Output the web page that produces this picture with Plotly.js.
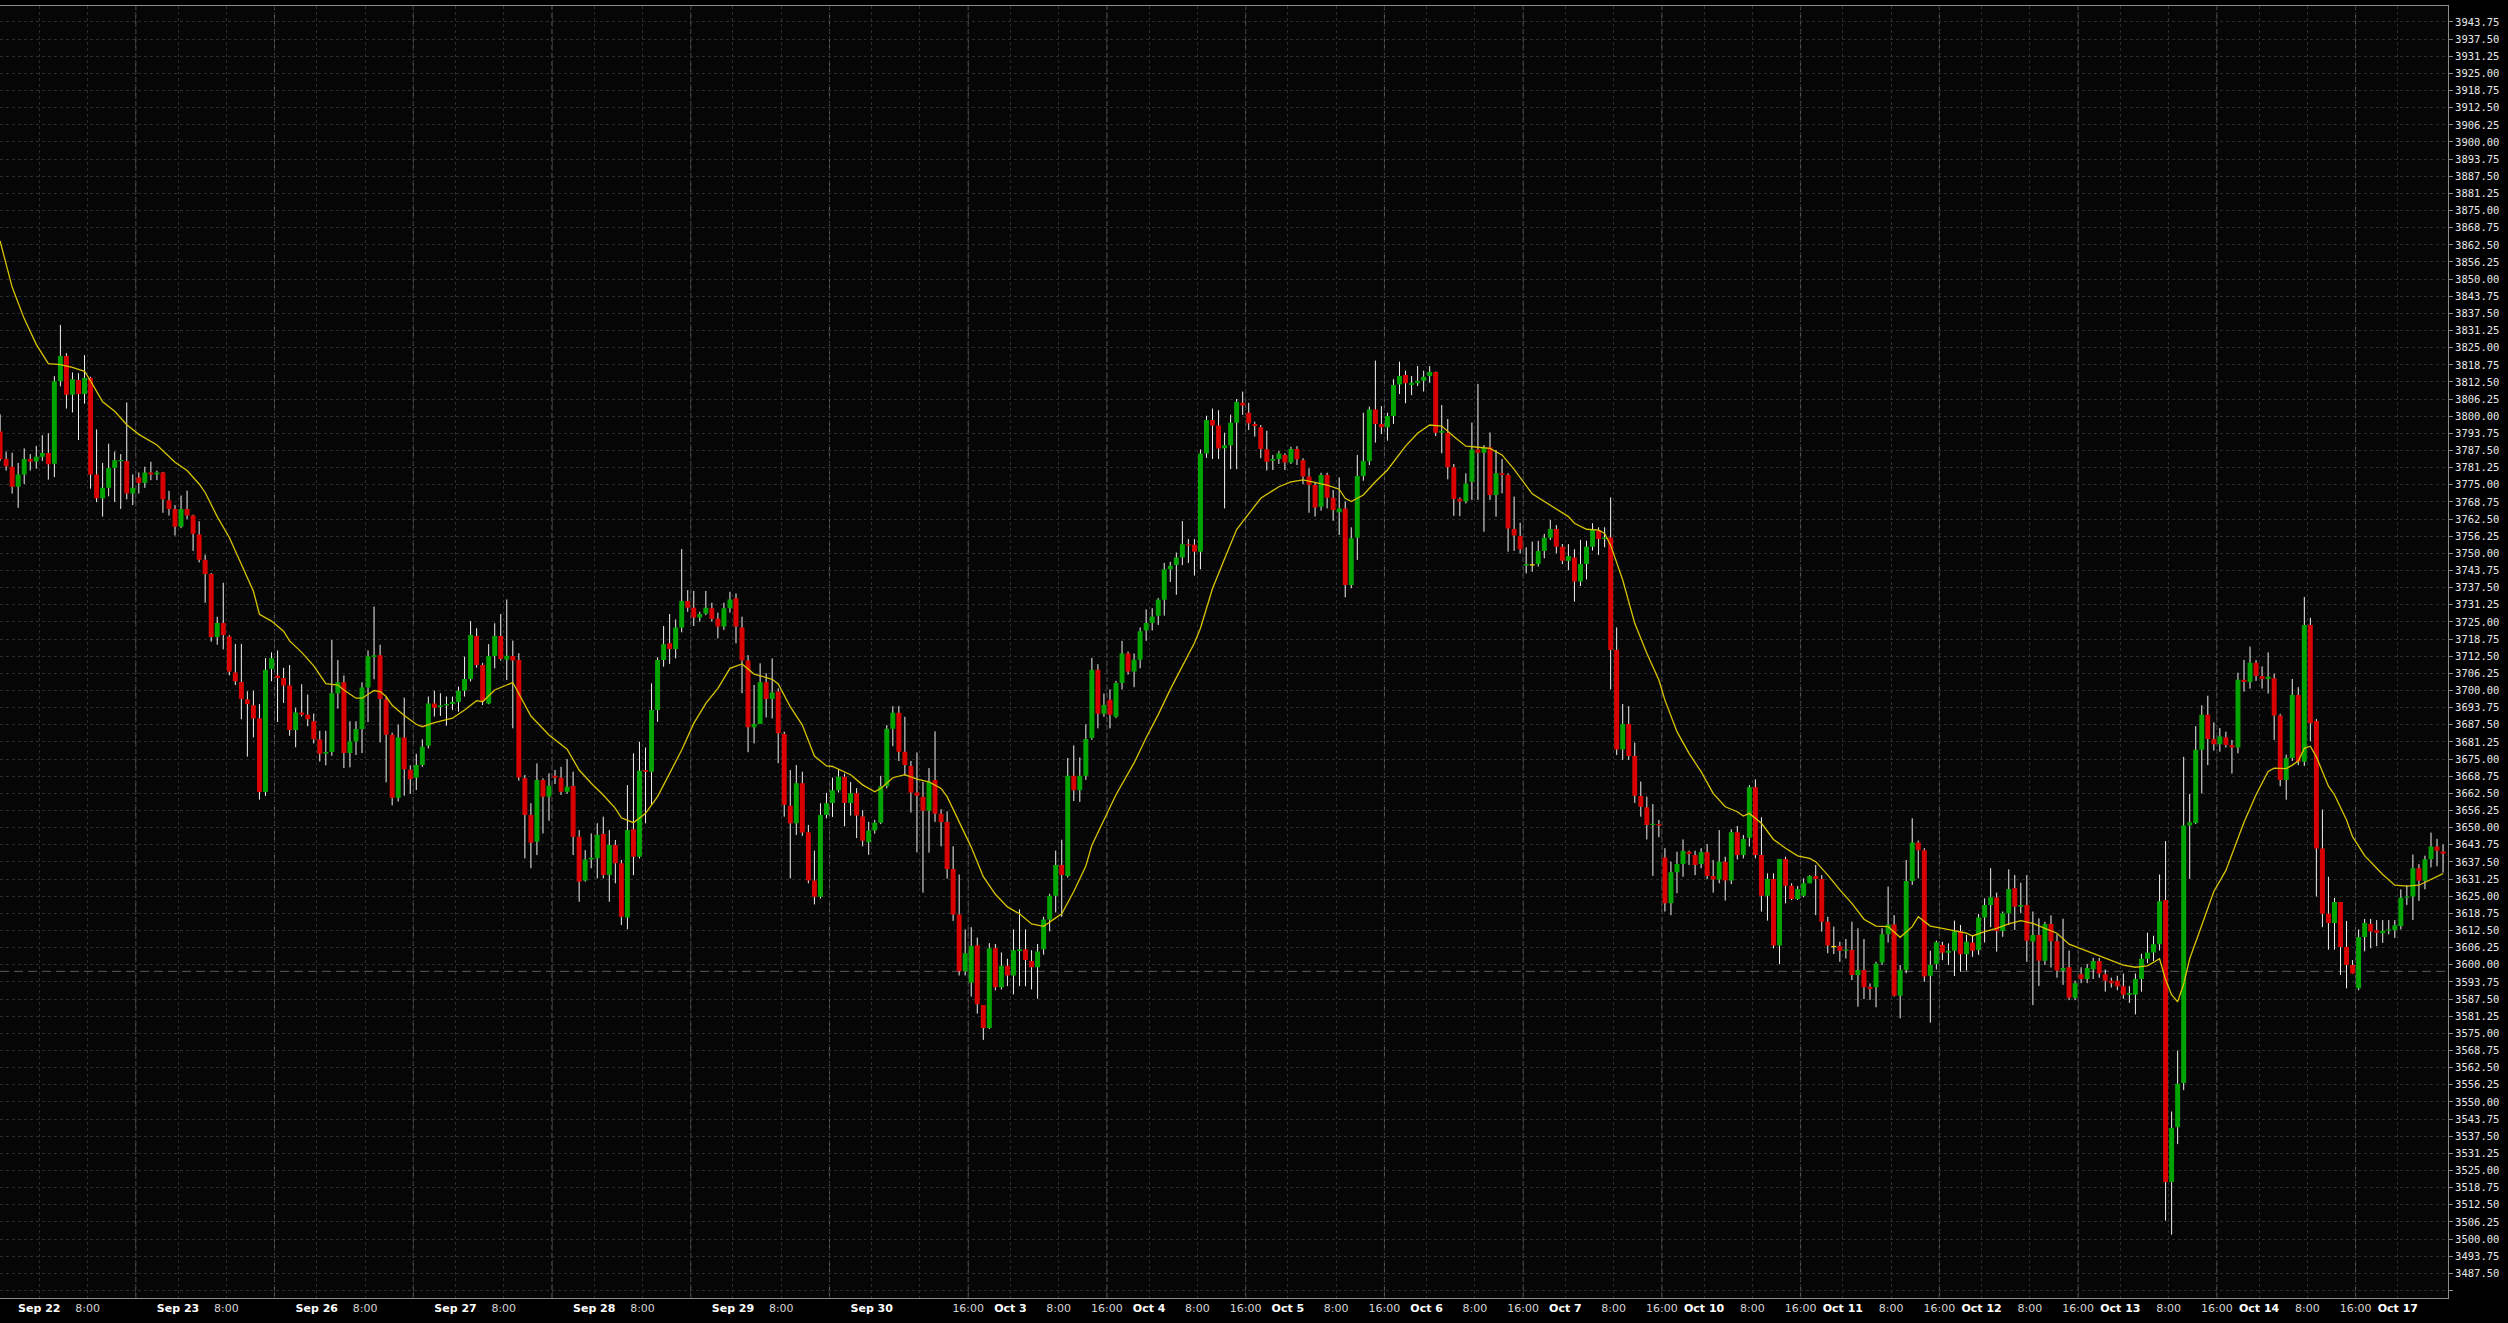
<!DOCTYPE html>
<html>
<head>
<meta charset="utf-8">
<script src="https://cdn.plot.ly/plotly-3.0.1.min.js"></script>
<style>
html,body{margin:0;padding:0;background:#000;}
#chart{width:2508px;height:1323px;}
</style>
</head>
<body>
<div id="chart"></div>
<script>
// ---- Hourly candles (index 0..405) ----
const openP = [
3794.4,3784.4,3781.6,3774.3,3778.8,3784.4,3783.5,3785.2,3786.6,3782.7,
3812.8,3822.0,3807.8,3813.2,3808.1,3813.9,3778.8,3770.1,3773.9,3781.1,
3783.6,3783.7,3771.8,3777.7,3775.7,3779.5,3778.8,3779.5,3769.4,3766.2,
3759.7,3766.2,3763.8,3756.9,3747.7,3742.5,3719.5,3724.6,3719.7,3706.6,
3703.1,3696.7,3694.6,3689.8,3663.0,3707.8,3705.5,3704.6,3701.8,3685.6,
3692.0,3691.2,3688.8,3682.1,3676.9,3677.6,3699.0,3703.0,3677.2,3681.4,
3686.0,3701.1,3712.2,3712.9,3696.7,3683.9,3660.9,3682.9,3671.1,3668.2,
3672.8,3679.9,3695.3,3694.0,3694.5,3695.1,3695.8,3699.9,3704.2,3719.9,
3709.3,3695.3,3712.6,3719.9,3711.3,3712.6,3711.1,3668.0,3654.6,3644.9,
3667.4,3661.3,3668.9,3668.2,3663.1,3665.2,3646.7,3630.7,3638.4,3638.8,
3647.7,3632.7,3643.7,3637.0,3617.2,3649.4,3639.4,3671.0,3670.4,3692.9,
3711.1,3717.2,3715.1,3723.0,3732.6,3730.2,3726.6,3728.1,3730.0,3726.3,
3723.3,3730.0,3733.6,3723.0,3710.9,3686.6,3687.8,3703.0,3696.9,3699.6,
3684.1,3658.0,3651.6,3666.2,3648.3,3630.7,3624.8,3654.6,3659.0,3663.6,
3668.6,3659.0,3662.5,3654.1,3644.7,3649.0,3651.8,3665.1,3686.1,3691.9,
3677.7,3672.5,3662.8,3661.3,3656.2,3667.4,3655.1,3652.1,3634.9,3618.3,
3597.6,3593.4,3607.1,3585.3,3576.9,3606.0,3591.8,3599.6,3596.1,3605.0,
3605.7,3601.4,3599.1,3605.7,3616.5,3625.2,3636.4,3632.4,3668.9,3663.6,
3668.9,3682.7,3707.6,3691.5,3696.6,3690.4,3702.7,3713.5,3706.9,3711.2,
3721.9,3724.6,3727.3,3733.1,3744.2,3745.8,3748.5,3753.3,3753.1,3750.6,
3786.4,3798.6,3796.6,3788.3,3789.4,3797.6,3804.9,3801.3,3797.2,3796.0,
3788.0,3783.8,3784.4,3785.9,3783.1,3788.1,3784.0,3778.0,3774.9,3767.0,
3778.6,3770.3,3765.0,3766.4,3738.5,3755.7,3778.2,3783.7,3802.5,3797.2,
3796.0,3800.1,3811.6,3815.0,3811.4,3812.0,3812.9,3814.7,3816.1,3794.0,
3794.0,3781.4,3769.8,3768.9,3776.1,3787.9,3786.7,3788.7,3771.3,3779.2,
3778.6,3758.9,3756.3,3745.6,3745.8,3746.1,3750.9,3755.7,3758.9,3752.4,
3747.3,3748.5,3739.7,3746.1,3752.4,3758.3,3755.2,3755.8,3714.8,3678.5,
3687.8,3676.1,3661.5,3657.4,3651.0,3651.3,3639.1,3622.4,3633.7,3636.7,
3641.2,3640.0,3636.7,3641.0,3632.4,3631.1,3637.6,3630.7,3648.3,3640.0,
3646.3,3664.7,3640.0,3625.2,3631.3,3607.0,3638.6,3628.8,3624.0,3625.2,
3629.7,3632.4,3631.3,3615.7,3606.6,3606.8,3605.1,3605.4,3596.3,3598.1,
3592.0,3591.8,3600.8,3611.1,3614.7,3588.7,3598.1,3630.5,3644.6,3641.8,
3596.0,3600.3,3607.2,3604.4,3605.1,3612.1,3603.8,3608.1,3605.4,3617.2,
3621.8,3624.5,3612.3,3618.8,3627.9,3621.2,3621.8,3608.5,3610.9,3601.5,
3614.9,3608.6,3597.9,3599.1,3588.0,3596.5,3594.8,3598.4,3601.4,3596.5,
3594.2,3594.2,3592.2,3589.1,3589.1,3594.8,3602.2,3604.5,3607.5,3623.6,
3520.8,3540.8,3556.9,3650.8,3651.7,3678.4,3691.2,3682.3,3680.4,3683.0,
3680.1,3679.2,3703.9,3703.1,3710.1,3705.3,3704.2,3704.5,3690.9,3667.4,
3675.4,3698.4,3674.0,3723.9,3688.9,3642.4,3618.6,3615.2,3622.9,3606.5,
3599.9,3591.4,3610.1,3614.9,3612.6,3611.5,3612.4,3612.6,3614.1,3624.4,
3624.9,3635.2,3630.6,3638.5,3643.1,3641.3];

const highP = [
3800.7,3787.1,3786.7,3783.0,3788.3,3786.2,3789.2,3793.1,3793.8,3814.6,
3833.3,3823.0,3816.0,3815.7,3822.3,3814.4,3795.2,3783.0,3790.0,3787.1,
3786.2,3805.0,3778.8,3779.5,3781.6,3783.4,3780.2,3779.7,3772.8,3767.6,
3771.1,3772.9,3764.1,3761.7,3749.5,3742.8,3726.9,3739.3,3720.2,3717.0,
3717.0,3699.7,3699.9,3695.1,3711.8,3713.9,3714.6,3708.3,3709.3,3693.7,
3702.3,3698.5,3691.6,3685.3,3685.3,3718.4,3711.1,3705.5,3688.8,3688.8,
3703.0,3714.6,3730.6,3716.7,3697.9,3684.6,3687.6,3697.4,3672.7,3676.9,
3682.2,3697.8,3699.9,3699.0,3697.8,3697.8,3701.4,3712.3,3725.3,3722.7,
3710.1,3716.9,3724.5,3727.9,3733.2,3718.2,3713.6,3669.2,3658.9,3673.4,
3668.0,3669.8,3671.0,3672.2,3675.0,3670.4,3649.1,3641.8,3647.9,3651.6,
3654.0,3649.1,3645.5,3638.2,3665.5,3677.1,3681.3,3679.2,3702.6,3712.1,
3723.5,3727.9,3725.9,3751.6,3736.6,3736.3,3728.7,3736.3,3732.0,3728.4,
3732.0,3736.0,3735.4,3726.9,3712.9,3702.0,3709.9,3706.3,3711.7,3700.8,
3685.0,3671.0,3672.8,3670.4,3651.0,3641.6,3658.9,3662.7,3668.2,3671.3,
3669.7,3666.6,3664.4,3656.4,3652.1,3652.8,3668.9,3687.4,3694.3,3694.3,
3690.4,3674.3,3677.4,3666.7,3671.7,3685.1,3656.7,3655.9,3643.2,3632.9,
3612.9,3613.7,3609.9,3585.3,3607.9,3607.6,3604.5,3602.2,3612.9,3620.2,
3612.9,3605.3,3607.6,3617.5,3625.9,3641.6,3645.6,3675.4,3680.0,3675.6,
3687.7,3711.9,3709.6,3698.9,3700.4,3703.5,3718.1,3714.2,3713.5,3723.0,
3729.6,3730.0,3733.7,3746.5,3746.9,3750.3,3761.8,3755.2,3755.2,3787.9,
3800.2,3802.8,3802.2,3794.0,3800.6,3806.3,3809.0,3804.9,3798.0,3796.8,
3794.7,3785.9,3787.3,3786.5,3788.9,3789.1,3784.7,3781.0,3776.1,3779.4,
3779.4,3773.1,3777.7,3768.9,3759.5,3785.9,3801.3,3803.5,3820.3,3803.7,
3801.3,3813.5,3819.9,3816.6,3814.7,3818.3,3816.6,3818.3,3816.3,3804.1,
3799.0,3782.6,3770.4,3779.2,3797.7,3811.8,3789.5,3794.1,3787.7,3784.4,
3779.2,3770.7,3761.2,3752.2,3754.3,3754.6,3757.1,3762.2,3760.3,3753.4,
3753.4,3751.5,3754.9,3754.6,3761.0,3759.5,3759.5,3770.4,3723.0,3695.1,
3694.3,3681.0,3666.8,3661.3,3658.6,3652.8,3642.5,3637.6,3641.2,3645.7,
3641.6,3641.6,3642.5,3644.0,3638.2,3649.1,3639.4,3649.4,3650.6,3647.3,
3665.5,3667.6,3653.8,3633.3,3633.3,3638.6,3639.4,3629.7,3628.7,3631.5,
3632.7,3636.4,3632.7,3617.5,3613.9,3608.4,3609.4,3615.7,3613.3,3609.4,
3593.2,3601.1,3613.3,3628.5,3618.1,3599.9,3638.2,3653.4,3645.3,3642.5,
3605.1,3608.8,3608.4,3607.8,3616.1,3614.5,3610.9,3610.5,3618.5,3624.2,
3635.2,3626.3,3619.4,3634.8,3632.7,3629.9,3632.7,3619.4,3616.9,3615.7,
3618.0,3611.1,3616.8,3605.2,3594.2,3599.1,3600.3,3602.5,3602.5,3598.3,
3595.3,3596.0,3596.8,3592.2,3596.8,3604.0,3611.7,3610.6,3632.9,3645.1,
3546.5,3568.7,3675.8,3662.3,3687.0,3694.6,3698.1,3688.4,3686.3,3685.0,
3682.0,3706.5,3711.1,3716.0,3711.1,3708.8,3713.9,3706.2,3691.5,3676.6,
3704.2,3701.2,3734.1,3726.5,3689.6,3656.6,3632.1,3624.4,3622.9,3616.0,
3601.7,3612.9,3616.7,3616.7,3616.3,3616.3,3616.3,3616.3,3627.5,3629.0,
3640.2,3636.7,3639.8,3648.2,3645.9,3643.9];

const lowP = [
3783.7,3780.2,3771.8,3766.6,3775.3,3780.2,3780.9,3783.7,3776.9,3777.8,
3810.9,3802.8,3801.4,3791.3,3804.6,3773.6,3768.7,3763.4,3770.8,3768.7,
3766.2,3769.7,3767.6,3771.8,3773.9,3776.7,3776.7,3764.8,3763.8,3756.5,
3759.2,3762.5,3750.9,3746.7,3732.0,3717.8,3716.7,3715.0,3705.5,3702.0,
3689.5,3675.9,3682.9,3660.2,3661.6,3703.4,3688.5,3695.5,3683.5,3679.3,
3690.5,3687.0,3680.7,3674.1,3672.7,3676.2,3693.4,3671.7,3672.0,3676.5,
3677.2,3688.5,3704.1,3681.1,3666.5,3658.1,3659.5,3661.6,3662.3,3663.7,
3672.2,3678.9,3690.5,3690.7,3687.2,3692.9,3692.3,3697.8,3703.3,3708.3,
3694.7,3695.0,3708.1,3710.9,3703.8,3686.2,3667.1,3638.8,3635.2,3640.0,
3647.9,3652.5,3665.9,3661.9,3662.3,3640.0,3623.0,3630.3,3635.2,3631.5,
3631.5,3623.0,3629.7,3614.5,3612.9,3632.7,3638.8,3651.6,3658.3,3688.6,
3708.7,3709.7,3711.7,3721.2,3728.7,3723.5,3725.1,3727.5,3725.1,3719.0,
3722.1,3728.4,3717.2,3699.0,3677.5,3680.7,3687.8,3690.2,3689.8,3673.5,
3654.0,3631.5,3647.3,3647.0,3629.7,3622.0,3624.2,3653.4,3653.9,3662.8,
3650.5,3654.4,3646.2,3643.2,3640.1,3647.8,3651.3,3664.3,3679.7,3674.3,
3668.9,3655.5,3641.0,3626.3,3640.9,3652.1,3643.2,3631.4,3616.0,3596.1,
3596.1,3588.4,3582.2,3572.6,3576.6,3590.7,3591.0,3592.2,3589.2,3592.2,
3592.2,3591.0,3587.6,3603.7,3612.2,3619.1,3617.5,3631.8,3659.7,3659.4,
3667.4,3682.0,3686.2,3690.4,3686.2,3690.0,3700.4,3705.8,3701.2,3708.1,
3718.1,3721.9,3723.9,3727.3,3739.6,3734.9,3745.7,3746.5,3741.9,3744.2,
3784.8,3784.4,3784.4,3766.4,3780.7,3780.7,3800.5,3795.0,3792.6,3784.7,
3780.2,3780.4,3782.6,3780.4,3782.6,3782.2,3775.3,3764.8,3763.4,3765.6,
3766.4,3761.9,3756.7,3734.0,3737.3,3747.6,3776.5,3782.2,3790.4,3793.5,
3791.1,3797.2,3808.1,3804.7,3807.7,3811.0,3809.0,3812.2,3792.8,3786.5,
3777.0,3763.7,3763.6,3768.2,3769.5,3769.5,3757.9,3769.5,3763.4,3771.9,
3750.6,3750.9,3750.0,3742.7,3743.3,3745.2,3748.2,3754.9,3750.0,3746.1,
3743.9,3732.4,3738.1,3740.5,3751.0,3749.4,3752.2,3700.4,3676.5,3674.7,
3674.7,3659.0,3654.0,3645.7,3632.4,3646.5,3619.4,3618.1,3626.1,3632.1,
3636.4,3632.7,3635.2,3631.2,3626.3,3629.7,3623.4,3629.4,3638.4,3638.8,
3643.1,3638.8,3619.4,3616.1,3606.0,3600.2,3622.4,3623.6,3623.6,3624.6,
3629.7,3618.1,3612.1,3604.2,3603.9,3601.1,3602.3,3594.4,3584.7,3587.5,
3587.2,3584.5,3599.9,3608.1,3588.4,3580.5,3596.9,3629.1,3631.5,3593.8,
3578.9,3598.3,3601.7,3599.9,3595.9,3597.5,3597.9,3602.9,3603.6,3608.1,
3613.7,3604.8,3610.2,3614.5,3612.7,3618.8,3601.1,3585.3,3592.3,3599.9,
3599.0,3595.3,3592.7,3587.1,3587.1,3593.3,3593.3,3594.8,3595.3,3590.2,
3591.7,3590.7,3587.6,3586.1,3581.9,3590.2,3600.6,3601.4,3605.2,3506.7,
3501.6,3534.6,3554.3,3631.3,3651.3,3662.5,3672.8,3678.1,3677.7,3679.2,
3669.7,3677.1,3699.6,3700.7,3703.5,3700.7,3698.9,3682.0,3665.1,3660.2,
3674.3,3672.8,3672.5,3681.5,3624.9,3613.7,3605.5,3605.5,3596.3,3591.4,
3596.8,3590.7,3604.9,3606.0,3606.8,3608.0,3611.1,3609.8,3612.9,3621.8,
3616.3,3623.3,3627.5,3635.5,3635.9,3633.6];

const closeP = [
3784.4,3781.8,3774.3,3778.8,3784.4,3783.5,3785.2,3786.6,3782.5,3812.8,
3822.0,3807.8,3813.5,3808.1,3813.9,3778.8,3770.1,3773.9,3781.1,3784.0,
3784.0,3771.8,3773.9,3775.7,3779.5,3778.8,3779.5,3769.7,3766.2,3759.7,
3766.2,3763.8,3757.2,3747.7,3742.5,3719.5,3724.6,3720.2,3706.9,3703.4,
3696.9,3695.1,3689.8,3663.0,3707.6,3711.8,3704.6,3701.8,3685.6,3692.0,
3691.2,3689.5,3682.2,3676.9,3677.6,3699.0,3703.0,3677.2,3681.4,3686.0,
3701.1,3712.5,3712.9,3696.9,3683.9,3660.9,3682.9,3671.3,3667.6,3672.8,
3679.5,3695.3,3693.7,3694.5,3695.1,3695.8,3699.9,3704.2,3720.2,3709.3,
3696.3,3712.6,3719.9,3711.5,3712.7,3710.9,3668.3,3654.6,3644.5,3667.4,
3661.3,3665.3,3668.2,3663.1,3664.9,3646.7,3630.3,3638.4,3639.0,3647.3,
3632.7,3643.7,3637.0,3617.5,3649.1,3639.4,3670.7,3670.4,3692.9,3711.1,
3716.9,3715.1,3723.0,3732.6,3730.2,3726.6,3727.9,3730.2,3726.1,3723.3,
3730.0,3733.2,3723.3,3710.9,3686.6,3687.8,3703.0,3696.9,3699.3,3684.4,
3658.3,3651.6,3666.2,3648.2,3630.7,3624.8,3654.6,3658.9,3663.6,3668.6,
3659.0,3662.5,3654.4,3645.2,3649.0,3651.8,3665.1,3686.1,3691.9,3677.7,
3672.8,3662.8,3661.6,3656.2,3666.7,3655.1,3652.1,3634.9,3618.3,3597.6,
3604.2,3606.8,3585.6,3576.9,3606.0,3591.8,3599.6,3596.1,3605.3,3605.7,
3601.7,3599.1,3604.8,3616.5,3625.2,3636.4,3632.7,3668.9,3663.6,3668.9,
3682.3,3707.6,3691.5,3694.7,3691.2,3702.7,3713.5,3706.9,3711.2,3721.6,
3724.6,3727.0,3733.1,3744.2,3745.5,3748.5,3753.3,3752.9,3750.6,3786.4,
3798.6,3796.6,3788.2,3789.4,3797.6,3805.2,3803.9,3797.4,3796.4,3788.1,
3783.4,3784.4,3786.4,3783.1,3788.1,3784.3,3778.0,3774.9,3766.7,3778.6,
3770.3,3765.8,3766.4,3738.5,3755.5,3778.2,3783.7,3802.5,3797.2,3796.0,
3800.1,3811.4,3814.7,3812.0,3812.2,3812.9,3814.4,3816.1,3794.0,3794.7,
3781.4,3769.8,3768.9,3775.5,3787.9,3786.7,3788.5,3771.3,3779.2,3778.6,
3759.1,3756.5,3751.5,3746.1,3745.8,3750.9,3755.7,3758.9,3752.4,3747.3,
3749.0,3739.7,3746.1,3752.4,3758.5,3755.2,3755.8,3714.8,3678.5,3687.8,
3676.1,3661.6,3657.6,3651.0,3651.3,3650.8,3622.4,3633.7,3636.7,3641.5,
3640.4,3636.4,3641.0,3632.4,3631.1,3637.6,3630.7,3648.3,3640.0,3645.9,
3664.7,3640.0,3625.2,3631.3,3607.0,3638.6,3628.8,3624.0,3627.6,3629.7,
3632.4,3631.3,3615.7,3607.0,3606.6,3605.1,3605.6,3596.3,3598.1,3591.8,
3591.2,3600.5,3611.1,3614.7,3588.7,3598.1,3630.5,3644.6,3641.8,3595.7,
3599.9,3608.2,3604.4,3605.1,3612.1,3603.8,3608.4,3605.1,3617.2,3621.8,
3624.6,3612.3,3618.8,3627.6,3621.2,3621.8,3608.8,3610.9,3601.5,3614.9,
3608.6,3597.9,3598.8,3588.0,3593.3,3594.8,3598.8,3601.4,3596.8,3594.2,
3593.3,3592.2,3589.1,3589.7,3594.8,3602.2,3604.5,3607.5,3623.2,3520.8,
3540.5,3556.6,3650.8,3652.0,3678.4,3691.2,3682.3,3680.4,3683.2,3680.1,
3679.2,3703.9,3703.1,3710.1,3705.3,3704.2,3705.0,3690.9,3667.4,3675.4,
3698.4,3674.0,3723.9,3688.1,3642.4,3618.6,3615.2,3622.9,3606.5,3599.9,
3596.8,3610.1,3615.2,3612.1,3611.7,3612.4,3612.9,3614.4,3624.4,3624.9,
3635.2,3630.6,3638.5,3643.1,3641.6,3640.5];

// ---- Moving average (yellow line), read at candle indices ----
const maIdx = [0,2,4,6,8,10,12,14,15,17,19,21,23,25,26,29,31,33,34,36,38,40,42,43,45,47,48,50,52,54,56,57,59,60,62,63,64,65,67,69,
70,72,75,77,79,80,82,84,85,88,91,94,96,98,100,102,103,105,107,109,111,113,115,117,119,121,123,125,128,129,131,133,135,137,
138,141,143,145,146,148,150,152,154,156,157,159,161,163,165,167,169,171,173,175,176,178,180,181,183,185,188,190,192,194,196,198,199,201,203,205,
206,209,212,214,216,218,220,222,223,224,226,228,230,233,235,237,239,241,243,245,247,249,251,254,257,260,261,263,265,266,267,269,271,273,
275,276,278,280,282,284,286,288,289,290,292,294,296,298,300,301,303,305,307,309,311,313,315,317,318,320,322,324,326,327,329,331,333,335,337,339,341,
343,346,349,352,354,356,358,359,360,361,362,363,365,367,369,370,372,374,376,377,379,380,381,382,383,384,386,387,389,390,392,394,395,397,399,401,403,405];
const maVal = [3863.9,3847.1,3835.6,3826.2,3819.2,3818.8,3817.8,3816.4,3812.9,3805.3,3801.8,3796.9,3793.4,3790.9,3789.5,3783.2,3780.2,3775.3,3772.2,3763.4,3755.8,3746.0,3736.2,3727.8,3725.3,3721.6,3718.1,3713.9,3709.0,3702.5,3702.0,3700.2,3697.2,3697.2,3700.0,3699.6,3697.8,3694.6,3690.9,3687.7,
3686.8,3688.3,3689.9,3692.9,3696.3,3695.9,3700.2,3702.0,3702.9,3690.7,3683.8,3678.6,3671.0,3666.2,3661.9,3657.0,3653.6,3651.8,3655.2,3661.3,3669.8,3678.3,3688.0,3695.3,3700.8,3708.1,3709.7,3706.0,3704.1,3702.4,3694.1,3687.4,3676.1,3672.5,
3672.3,3669.3,3665.6,3663.1,3664.3,3668.2,3669.3,3667.7,3666.7,3664.3,3661.3,3652.1,3642.9,3632.1,3625.7,3621.1,3618.6,3614.9,3614.0,3617.1,3618.6,3626.7,3636.0,3643.6,3652.8,3662.0,3673.6,3682.8,3691.2,3700.4,3708.9,3717.3,3722.7,3737.2,3748.0,3758.7,
3761.6,3770.1,3774.3,3776.1,3776.8,3775.8,3774.9,3773.4,3770.1,3768.9,3771.3,3776.1,3780.4,3789.1,3793.8,3796.8,3796.4,3792.6,3789.1,3788.7,3788.3,3785.9,3780.6,3771.7,3767.6,3763.4,3761.0,3758.8,3758.5,3757.3,3753.0,3740.3,3724.5,3713.6,
3703.8,3696.5,3685.0,3677.1,3670.4,3662.5,3657.6,3655.8,3654.2,3655.2,3651.6,3645.7,3642.5,3639.7,3638.8,3637.6,3632.7,3627.3,3622.4,3616.6,3614.1,3613.9,3610.0,3613.9,3617.5,3614.1,3613.3,3612.3,3611.5,3610.5,3612.1,3613.3,3614.9,3616.1,3615.1,3613.3,3611.5,
3607.5,3604.9,3602.5,3599.9,3599.1,3599.6,3602.2,3594.5,3589.1,3586.5,3593.0,3602.2,3614.4,3626.7,3634.4,3640.5,3652.0,3662.0,3670.5,3671.7,3671.5,3672.8,3674.3,3678.9,3679.7,3675.8,3665.1,3662.0,3652.8,3646.7,3639.8,3635.2,3632.9,3629.0,3628.7,3629.0,3631.0,3633.2];

// ---- X axis: tick positions (candle index) and labels ----
const tickPos = [7,15,23, 30,38,46, 53,61,69, 76,84,92, 99,107,115, 122,130,138, 145,153,161, 168,176,184,
 191,199,207, 214,222,230, 237,245,253, 260,268,276, 283,291,299, 306,314,322, 329,337,345, 352,360,368, 375,383,391, 398];
const tickText = ['Sep 22','8:00','', 'Sep 23','8:00','', 'Sep 26','8:00','', 'Sep 27','8:00','', 'Sep 28','8:00','',
 'Sep 29','8:00','', 'Sep 30','','16:00', 'Oct 3','8:00','16:00', 'Oct 4','8:00','16:00', 'Oct 5','8:00','16:00',
 'Oct 6','8:00','16:00', 'Oct 7','8:00','16:00', 'Oct 10','8:00','16:00', 'Oct 11','8:00','16:00', 'Oct 12','8:00','16:00',
 'Oct 13','8:00','16:00', 'Oct 14','8:00','16:00', 'Oct 17'];
const sessionBreaks = [23,46,69,92,115,138,161,184,207,230,253,276,299,322,345,368,391];
const refLevel = 3597.6;

// ---- Y axis ticks ----
const yTickStep = 6.25, yTickMin = 3481.25, yTickMax = 3943.75;

// ---------------- build ----------------
const n = openP.length;
const GREEN = '#00a400', RED = '#d90000', DOJI = '#f0e000';
const halfW = 0.41;
const wx = [], wy = [];
const bodies = {g:{x:[],y:[]}, r:{x:[],y:[]}, d:{x:[],y:[]}};
for (let i = 0; i < n; i++) {
  const o = openP[i], c = closeP[i];
  wx.push(i, i, null); wy.push(lowP[i], highP[i], null);
  let top = Math.max(o, c), bot = Math.min(o, c);
  if (top - bot < 0.45) { const m = (top + bot) / 2; top = m + 0.225; bot = m - 0.225; }
  const k = c > o ? 'g' : (c < o ? 'r' : 'd');
  bodies[k].x.push(i - halfW, i + halfW, i + halfW, i - halfW, i - halfW, null);
  bodies[k].y.push(bot, bot, top, top, bot, null);
}
const traces = [
  {type:'scatter', mode:'lines', x:wx, y:wy, line:{color:'#f2f2f2', width:1}, hoverinfo:'skip', connectgaps:false},
  {type:'scatter', mode:'lines', x:bodies.g.x, y:bodies.g.y, fill:'toself', fillcolor:GREEN, line:{width:0, color:GREEN}, hoverinfo:'skip'},
  {type:'scatter', mode:'lines', x:bodies.r.x, y:bodies.r.y, fill:'toself', fillcolor:RED, line:{width:0, color:RED}, hoverinfo:'skip'},
  {type:'scatter', mode:'lines', x:bodies.d.x, y:bodies.d.y, fill:'toself', fillcolor:DOJI, line:{width:0, color:DOJI}, hoverinfo:'skip'},
  {type:'scatter', mode:'lines', x:maIdx, y:maVal, line:{color:'#d8c400', width:1.3}, hoverinfo:'skip'}
];

const tv = tickPos.map(p => p - 0.5);
const tt = tickText.map(t => t === '' ? '' : (/^[A-Z]/.test(t) ? '<b>' + t + '</b>' : '<span style="color:#d6d6d6">' + t + '</span>'));

const yv = [], yt = [];
for (let v = yTickMin; v <= yTickMax + 1e-6; v += yTickStep) { yv.push(v); yt.push(v === yTickMin ? '' : v.toFixed(2)); }

const shapes = sessionBreaks.map(p => ({
  type:'line', xref:'x', yref:'paper', x0:p - 0.5, x1:p - 0.5, y0:0, y1:1, layer:'below',
  line:{color:'#5c5c5c', width:1, dash:'5px,3px'}
}));
shapes.push({type:'line', xref:'paper', yref:'y', x0:0, x1:1, y0:refLevel, y1:refLevel, layer:'below',
  line:{color:'#5a5a5a', width:1, dash:'9px,5px'}});

const layout = {
  width:2508, height:1323,
  margin:{l:0, r:60, t:6, b:25, pad:0},
  paper_bgcolor:'#000000', plot_bgcolor:'#060606',
  showlegend:false, hovermode:false,
  font:{family:'DejaVu Sans', color:'#ffffff'},
  xaxis:{
    range:[-0.013, 405.82], tickmode:'array', tickvals:tv, ticktext:tt,
    showgrid:true, gridcolor:'#2c2c2c', griddash:'3px,3px', gridwidth:1,
    zeroline:false, showline:true, linecolor:'#8c8c8c', linewidth:1, mirror:true,
    ticks:'', tickfont:{family:'DejaVu Sans', size:11, color:'#ffffff'}, fixedrange:true
  },
  yaxis:{
    side:'right', range:[3478.50, 3949.58], tickmode:'array', tickvals:yv, ticktext:yt,
    showgrid:true, gridcolor:'#2c2c2c', griddash:'3px,3px', gridwidth:1,
    zeroline:false, showline:true, linecolor:'#8c8c8c', linewidth:1, mirror:true,
    ticks:'outside', ticklen:4, tickcolor:'#8c8c8c',
    tickfont:{family:'DejaVu Sans Mono', size:10.5, color:'#e8e8e8'}, fixedrange:true
  },
  shapes:shapes
};
Plotly.newPlot('chart', traces, layout, {displayModeBar:false, staticPlot:true});
</script>
</body>
</html>
